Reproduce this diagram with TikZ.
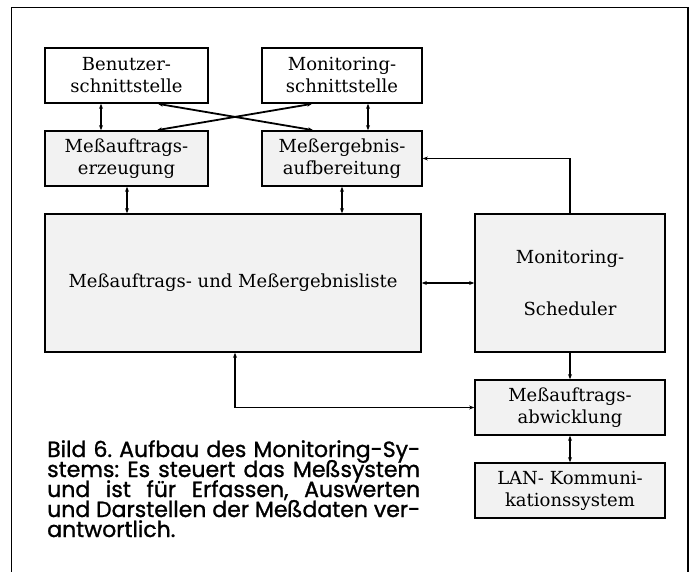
\documentclass[tikz,border=0pt]{standalone}
\usepackage{fontspec}
\newfontfamily\boxfont{DejaVu Serif}
\newfontfamily\capfont[FakeBold=1.2]{Poppins}
\usetikzlibrary{arrows.meta}
\begin{document}
\frenchspacing
\begin{tikzpicture}[x=1pt,y=-1pt,
  box/.style={draw, line width=1.7pt, align=center, inner sep=0pt,
    font=\boxfont\fontsize{18}{22}\selectfont},
  shaded/.style={fill=black!5},
  conn/.style={line width=1.3pt},
  dbl/.style={conn, {Stealth[length=5pt,width=4pt]}-{Stealth[length=5pt,width=4pt]}},
  one/.style={conn, -{Stealth[length=5pt,width=4pt]}},
  capline/.style={anchor=base west, inner sep=0pt,
    font=\capfont\fontsize{22}{20}\selectfont}]
\useasboundingbox (0,0) rectangle (696,572);
\draw[line width=1.3pt] (11.7,572) -- (11.7,7.3) -- (688,7.3) -- (688,572);

\node[box, minimum width=163pt, minimum height=55pt] (ben) at (126.5,75.5) {Benutzer-\\schnittstelle};
\node[box, minimum width=160pt, minimum height=55pt] (mon) at (342,75.5) {Monitoring-\\schnittstelle};
\node[box, shaded, minimum width=163pt, minimum height=55pt] (erz) at (126.5,158.5) {Meßauftrags-\\erzeugung};
\node[box, shaded, minimum width=160pt, minimum height=55pt] (auf) at (342,158.5) {Meßergebnis-\\aufbereitung};
\node[box, shaded, minimum width=376pt, minimum height=138pt] (list) at (233,283) {Meßauftrags- und Meßergebnisliste};
\node[box, shaded, minimum width=190pt, minimum height=138pt] (sched) at (570,283) {Monitoring-\\[30pt]Scheduler};
\node[box, shaded, minimum width=190pt, minimum height=55pt] (abw) at (570,407.5) {Meßauftrags-\\abwicklung};
\node[box, shaded, minimum width=190pt, minimum height=55pt] (lan) at (570,490.5) {LAN- Kommuni-\\kationssystem};

\draw[dbl] (101,0 |- ben.south) -- (101,0 |- erz.north);
\draw[dbl] (368,0 |- mon.south) -- (368,0 |- auf.north);
\draw[dbl, line width=1.8pt] (158,0 |- ben.south) -- (313,0 |- auf.north);
\draw[dbl, line width=1.8pt] (312,0 |- mon.south) -- (157,0 |- erz.north);
\draw[dbl] (127,0 |- erz.south) -- (127,0 |- list.north);
\draw[dbl] (342,0 |- auf.south) -- (342,0 |- list.north);
\draw[dbl] (list.east) -- (sched.west);
\draw[one] (sched.north) |- (auf.east);
\draw[one] (sched.south) -- (abw.north);
\draw[dbl] (235,0 |- list.south) |- (abw.west);
\draw[dbl] (abw.south) -- (lan.north);

\node[capline] (c1) at (47,457) {\hbox to 373pt{Bild 6. Aufbau des Monitoring-Sy-}};
\node[capline] (c2) at (47,477) {\hbox to 373pt{stems: Es steuert das Meßsystem}};
\node[capline] (c3) at (47,497) {\hbox to 373pt{und ist für Erfassen, Auswerten}};
\node[capline] (c4) at (47,517) {\hbox to 373pt{und Darstellen der Meßdaten ver-}};
\node[capline] (c5) at (47,537) {antwortlich.};
\end{tikzpicture}
\end{document}
